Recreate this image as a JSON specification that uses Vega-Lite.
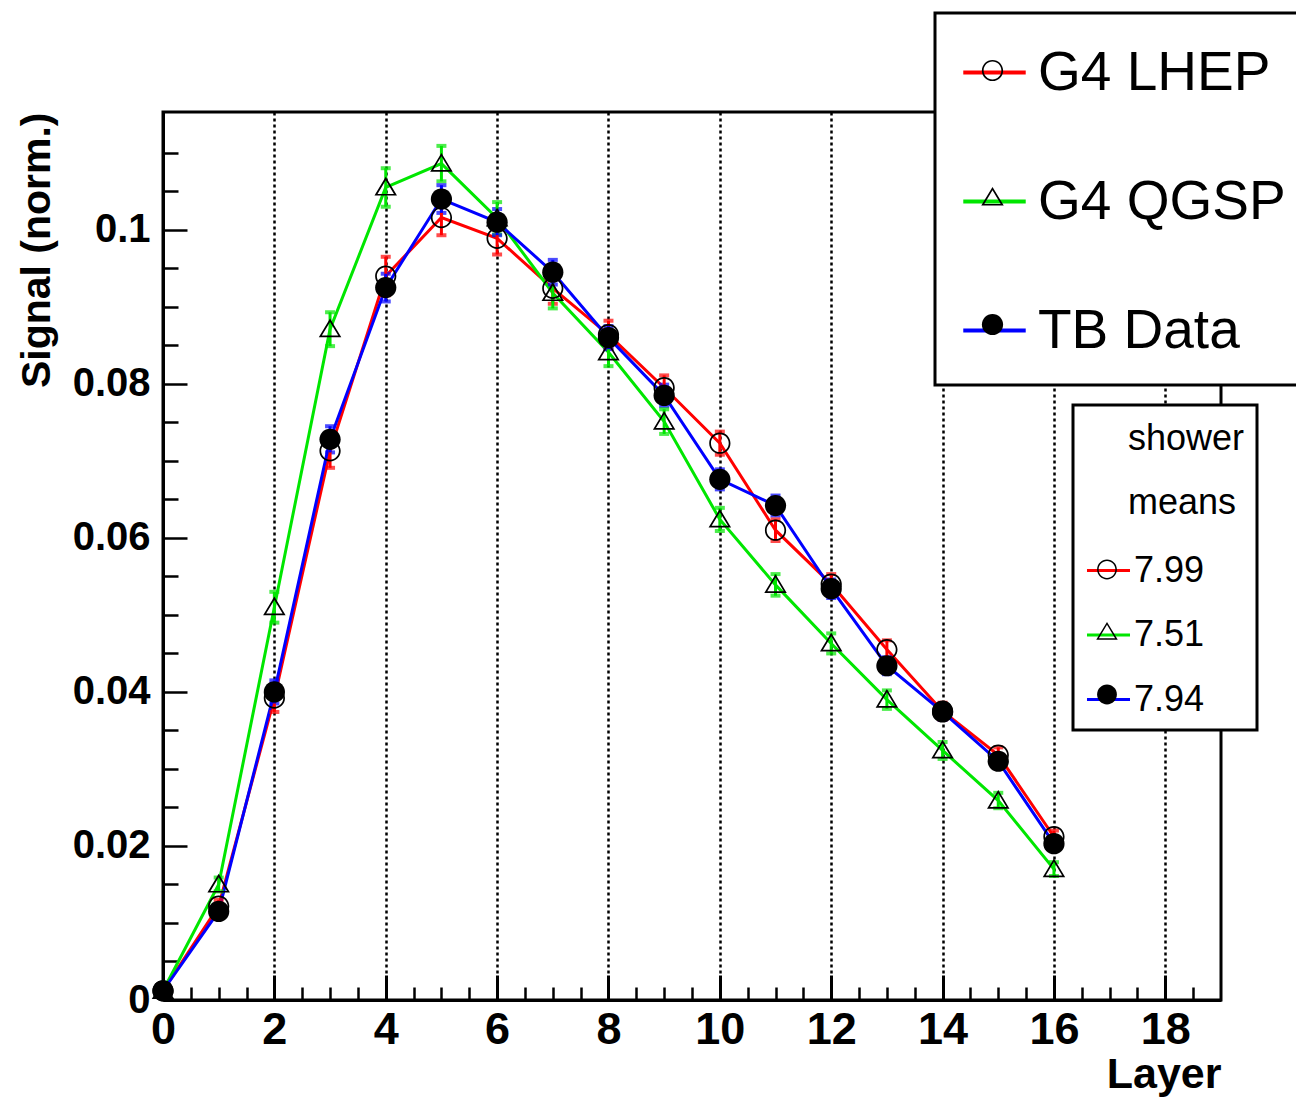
{
  "$schema": "https://vega.github.io/schema/vega-lite/v6.json",
  "width": 1058,
  "height": 888,
  "autosize": "none",
  "padding": {"left": 163, "top": 112, "right": 75, "bottom": 99},
  "background": "white",
  "config": {
    "view": {"stroke": "black", "strokeWidth": 3},
    "font": "Liberation Sans",
    "legend": {"labelFont": "Liberation Sans", "titleFont": "Liberation Sans", "labelLimit": 0}
  },
  "data": {
    "values": [
      {"layer": 0, "model": "G4 LHEP", "mean": "7.99", "signal": 0.0012, "err": 0.0002},
      {"layer": 1, "model": "G4 LHEP", "mean": "7.99", "signal": 0.0122, "err": 0.0008},
      {"layer": 2, "model": "G4 LHEP", "mean": "7.99", "signal": 0.0392, "err": 0.0018},
      {"layer": 3, "model": "G4 LHEP", "mean": "7.99", "signal": 0.0713, "err": 0.0022},
      {"layer": 4, "model": "G4 LHEP", "mean": "7.99", "signal": 0.0940, "err": 0.0025},
      {"layer": 5, "model": "G4 LHEP", "mean": "7.99", "signal": 0.1016, "err": 0.0023},
      {"layer": 6, "model": "G4 LHEP", "mean": "7.99", "signal": 0.0989, "err": 0.0021},
      {"layer": 7, "model": "G4 LHEP", "mean": "7.99", "signal": 0.0924, "err": 0.0020},
      {"layer": 8, "model": "G4 LHEP", "mean": "7.99", "signal": 0.0864, "err": 0.0018},
      {"layer": 9, "model": "G4 LHEP", "mean": "7.99", "signal": 0.0795, "err": 0.0016},
      {"layer": 10, "model": "G4 LHEP", "mean": "7.99", "signal": 0.0723, "err": 0.0015},
      {"layer": 11, "model": "G4 LHEP", "mean": "7.99", "signal": 0.0610, "err": 0.0014},
      {"layer": 12, "model": "G4 LHEP", "mean": "7.99", "signal": 0.0540, "err": 0.0013},
      {"layer": 13, "model": "G4 LHEP", "mean": "7.99", "signal": 0.0455, "err": 0.0012},
      {"layer": 14, "model": "G4 LHEP", "mean": "7.99", "signal": 0.0375, "err": 0.0011},
      {"layer": 15, "model": "G4 LHEP", "mean": "7.99", "signal": 0.0318, "err": 0.0010},
      {"layer": 16, "model": "G4 LHEP", "mean": "7.99", "signal": 0.0212, "err": 0.0008},
      {"layer": 0, "model": "G4 QGSP", "mean": "7.51", "signal": 0.0012, "err": 0.0002},
      {"layer": 1, "model": "G4 QGSP", "mean": "7.51", "signal": 0.0150, "err": 0.0009},
      {"layer": 2, "model": "G4 QGSP", "mean": "7.51", "signal": 0.0510, "err": 0.0020},
      {"layer": 3, "model": "G4 QGSP", "mean": "7.51", "signal": 0.0871, "err": 0.0022},
      {"layer": 4, "model": "G4 QGSP", "mean": "7.51", "signal": 0.1055, "err": 0.0025},
      {"layer": 5, "model": "G4 QGSP", "mean": "7.51", "signal": 0.1086, "err": 0.0023},
      {"layer": 6, "model": "G4 QGSP", "mean": "7.51", "signal": 0.1015, "err": 0.0021},
      {"layer": 7, "model": "G4 QGSP", "mean": "7.51", "signal": 0.0918, "err": 0.0020},
      {"layer": 8, "model": "G4 QGSP", "mean": "7.51", "signal": 0.0841, "err": 0.0018},
      {"layer": 9, "model": "G4 QGSP", "mean": "7.51", "signal": 0.0751, "err": 0.0016},
      {"layer": 10, "model": "G4 QGSP", "mean": "7.51", "signal": 0.0624, "err": 0.0015},
      {"layer": 11, "model": "G4 QGSP", "mean": "7.51", "signal": 0.0539, "err": 0.0014},
      {"layer": 12, "model": "G4 QGSP", "mean": "7.51", "signal": 0.0463, "err": 0.0013},
      {"layer": 13, "model": "G4 QGSP", "mean": "7.51", "signal": 0.0390, "err": 0.0012},
      {"layer": 14, "model": "G4 QGSP", "mean": "7.51", "signal": 0.0324, "err": 0.0011},
      {"layer": 15, "model": "G4 QGSP", "mean": "7.51", "signal": 0.0259, "err": 0.0010},
      {"layer": 16, "model": "G4 QGSP", "mean": "7.51", "signal": 0.0170, "err": 0.0009},
      {"layer": 0, "model": "TB Data", "mean": "7.94", "signal": 0.0012, "err": 0.0002},
      {"layer": 1, "model": "TB Data", "mean": "7.94", "signal": 0.0115, "err": 0.0008},
      {"layer": 2, "model": "TB Data", "mean": "7.94", "signal": 0.0400, "err": 0.0015},
      {"layer": 3, "model": "TB Data", "mean": "7.94", "signal": 0.0728, "err": 0.0017},
      {"layer": 4, "model": "TB Data", "mean": "7.94", "signal": 0.0925, "err": 0.0018},
      {"layer": 5, "model": "TB Data", "mean": "7.94", "signal": 0.1040, "err": 0.0018},
      {"layer": 6, "model": "TB Data", "mean": "7.94", "signal": 0.1010, "err": 0.0017},
      {"layer": 7, "model": "TB Data", "mean": "7.94", "signal": 0.0945, "err": 0.0016},
      {"layer": 8, "model": "TB Data", "mean": "7.94", "signal": 0.0860, "err": 0.0015},
      {"layer": 9, "model": "TB Data", "mean": "7.94", "signal": 0.0785, "err": 0.0014},
      {"layer": 10, "model": "TB Data", "mean": "7.94", "signal": 0.0676, "err": 0.0013},
      {"layer": 11, "model": "TB Data", "mean": "7.94", "signal": 0.0642, "err": 0.0013},
      {"layer": 12, "model": "TB Data", "mean": "7.94", "signal": 0.0534, "err": 0.0012},
      {"layer": 13, "model": "TB Data", "mean": "7.94", "signal": 0.0434, "err": 0.0011},
      {"layer": 14, "model": "TB Data", "mean": "7.94", "signal": 0.0374, "err": 0.0010},
      {"layer": 15, "model": "TB Data", "mean": "7.94", "signal": 0.0310, "err": 0.0009},
      {"layer": 16, "model": "TB Data", "mean": "7.94", "signal": 0.0203, "err": 0.0008}
    ]
  },
  "layer": [
    {
      "mark": {"type": "line", "strokeWidth": 3},
      "encoding": {
        "x": {
          "field": "layer", "type": "quantitative",
          "scale": {"domain": [0, 19], "nice": false, "zero": false},
          "axis": {
            "orient": "bottom",
            "values": [0, 2, 4, 6, 8, 10, 12, 14, 16, 18],
            "grid": true, "gridColor": "black", "gridDash": [3, 3], "gridWidth": 2.5,
            "tickSize": -25, "tickWidth": 3, "tickColor": "black",
            "domainColor": "black", "domainWidth": 3,
            "labelFont": "Liberation Sans", "labelFontSize": 45, "labelFontWeight": "bold",
            "labelColor": "black", "labelPadding": 32, "labelFlush": false, "labelOverlap": false,
            "title": "Layer", "titleFont": "Liberation Sans", "titleFontSize": 43, "titleFontWeight": "bold",
            "titleColor": "black", "titleAnchor": "end", "titlePadding": 1
          }
        },
        "y": {
          "field": "signal", "type": "quantitative",
          "scale": {"domain": [0, 0.1153], "nice": false, "zero": false},
          "axis": {
            "orient": "left",
            "values": [0, 0.02, 0.04, 0.06, 0.08, 0.1],
            "format": ".2~f",
            "grid": false,
            "tickSize": -24, "tickWidth": 2.5, "tickColor": "black",
            "domainColor": "black", "domainWidth": 3,
            "labelFont": "Liberation Sans", "labelFontSize": 40, "labelFontWeight": "bold",
            "labelColor": "black", "labelPadding": 37, "labelFlush": false, "labelOverlap": false,
            "title": "Signal (norm.)", "titleFont": "Liberation Sans", "titleFontSize": 41, "titleFontWeight": "bold",
            "titleColor": "black", "titleAnchor": "end", "titlePadding": 14
          }
        },
        "stroke": {
          "field": "model", "type": "nominal",
          "scale": {"domain": ["G4 LHEP", "G4 QGSP", "TB Data"], "range": ["#ff0000", "#00e600", "#0000ff"]},
          "legend": {
            "orient": "none", "legendX": 772, "legendY": -99,
            "title": null,
            "symbolType": "stroke", "symbolSize": 3900, "symbolStrokeWidth": 4,
            "labelFontSize": 55, "labelColor": "black", "labelOffset": 10, "labelLimit": 0,
            "rowPadding": 67, "padding": 26,
            "strokeColor": "black", "fillColor": "white",
            "zindex": 1,
            "encode": {"legend": {"update": {"strokeWidth": {"value": 3}}}}
          }
        }
      }
    },
    {
      "transform": [{"filter": "false"}],
      "mark": {"type": "line", "strokeWidth": 3},
      "encoding": {
        "x": {
          "field": "layer", "type": "quantitative",
          "axis": {
            "orient": "bottom",
            "values": [0.5, 1, 1.5, 2.5, 3, 3.5, 4.5, 5, 5.5, 6.5, 7, 7.5, 8.5, 9, 9.5, 10.5, 11, 11.5, 12.5, 13, 13.5, 14.5, 15, 15.5, 16.5, 17, 17.5, 18.5],
            "labels": false, "domain": false, "grid": false,
            "tickSize": -13, "tickWidth": 2.5, "tickColor": "black", "title": null
          }
        },
        "y": {
          "field": "signal", "type": "quantitative",
          "axis": {
            "orient": "left",
            "values": [0.005, 0.01, 0.015, 0.025, 0.03, 0.035, 0.045, 0.05, 0.055, 0.065, 0.07, 0.075, 0.085, 0.09, 0.095, 0.105, 0.11],
            "labels": false, "domain": false, "grid": false,
            "tickSize": -15, "tickWidth": 2.5, "tickColor": "black", "title": null
          }
        },
        "stroke": {
          "field": "mean", "type": "nominal",
          "scale": {"domain": ["7.99", "7.51", "7.94"], "range": ["#ff0000", "#00e600", "#0000ff"]},
          "legend": {
            "orient": "none", "legendX": 910, "legendY": 293,
            "title": ["shower", "means"],
            "titleFontSize": 36, "titleFontWeight": "normal", "titleColor": "black",
            "titleLineHeight": 64, "titlePadding": 30,
            "symbolType": "stroke", "symbolSize": 1850, "symbolStrokeWidth": 3,
            "labelFontSize": 36, "labelColor": "black", "labelOffset": 2, "labelLimit": 0,
            "rowPadding": 22.5, "padding": 12,
            "strokeColor": "black", "fillColor": "white",
            "zindex": 1,
            "encode": {
              "legend": {"update": {"strokeWidth": {"value": 3}}},
              "title": {"update": {"dx": {"value": 43}, "dy": {"value": 5}}}
            }
          }
        }
      }
    },
    {
      "mark": {"type": "errorbar", "thickness": 3, "ticks": {"size": 10, "thickness": 4}},
      "encoding": {
        "x": {"field": "layer", "type": "quantitative", "axis": null},
        "y": {"field": "signal", "type": "quantitative", "axis": null},
        "yError": {"field": "err"},
        "color": {
          "field": "model", "type": "nominal",
          "scale": {"domain": ["G4 LHEP", "G4 QGSP", "TB Data"], "range": ["#ff0000", "#00e600", "#0000ff"]},
          "legend": null
        }
      }
    },
    {
      "mark": {"type": "point", "filled": true, "color": "black", "strokeWidth": 0, "size": 3900, "opacity": 1},
      "encoding": {
        "x": {"field": "layer", "type": "quantitative", "axis": null},
        "y": {"field": "signal", "type": "quantitative", "axis": null},
        "shape": {
          "field": "model", "type": "nominal",
          "scale": {
            "domain": ["G4 LHEP", "G4 QGSP", "TB Data"],
            "range": [
              "M0.34,0A0.34,0.34 0 1,1 -0.34,0A0.34,0.34 0 1,1 0.34,0ZM0.285,0A0.285,0.285 0 1,0 -0.285,0A0.285,0.285 0 1,0 0.285,0Z",
              "M0,-0.34L0.36,0.26L-0.36,0.26ZM0,-0.233L-0.263,0.205L0.263,0.205Z",
              "M0.34,0A0.34,0.34 0 1,1 -0.34,0A0.34,0.34 0 1,1 0.34,0Z"
            ]
          },
          "legend": {
            "orient": "none", "legendX": 772, "legendY": -99,
            "title": null,
            "symbolSize": 3900, "symbolStrokeWidth": 0, "symbolFillColor": "black",
            "labelFontSize": 55, "labelExpr": "''", "labelOffset": 10, "labelLimit": 0,
            "rowPadding": 67, "padding": 26, "zindex": 2
          }
        }
      }
    },
    {
      "transform": [{"filter": "false"}],
      "mark": {"type": "point", "filled": true, "color": "black", "strokeWidth": 0, "size": 1850, "opacity": 1},
      "encoding": {
        "x": {"field": "layer", "type": "quantitative", "axis": null},
        "y": {"field": "signal", "type": "quantitative", "axis": null},
        "shape": {
          "field": "mean", "type": "nominal",
          "scale": {
            "domain": ["7.99", "7.51", "7.94"],
            "range": [
              "M0.46,0A0.46,0.46 0 1,1 -0.46,0A0.46,0.46 0 1,1 0.46,0ZM0.39,0A0.39,0.39 0 1,0 -0.39,0A0.39,0.39 0 1,0 0.39,0Z",
              "M0,-0.47L0.5,0.36L-0.5,0.36ZM0,-0.334L-0.376,0.29L0.376,0.29Z",
              "M0.46,0A0.46,0.46 0 1,1 -0.46,0A0.46,0.46 0 1,1 0.46,0Z"
            ]
          },
          "legend": {
            "orient": "none", "legendX": 910, "legendY": 423.5,
            "title": null,
            "symbolSize": 1850, "symbolStrokeWidth": 0, "symbolFillColor": "black",
            "labelFontSize": 36, "labelExpr": "''", "labelOffset": 2, "labelLimit": 0,
            "rowPadding": 22.5, "padding": 12, "zindex": 2
          }
        }
      }
    }
  ],
  "resolve": {
    "scale": {"stroke": "independent", "shape": "independent", "color": "independent"},
    "axis": {"x": "independent", "y": "independent"},
    "legend": {"stroke": "independent", "shape": "independent", "color": "independent"}
  }
}
